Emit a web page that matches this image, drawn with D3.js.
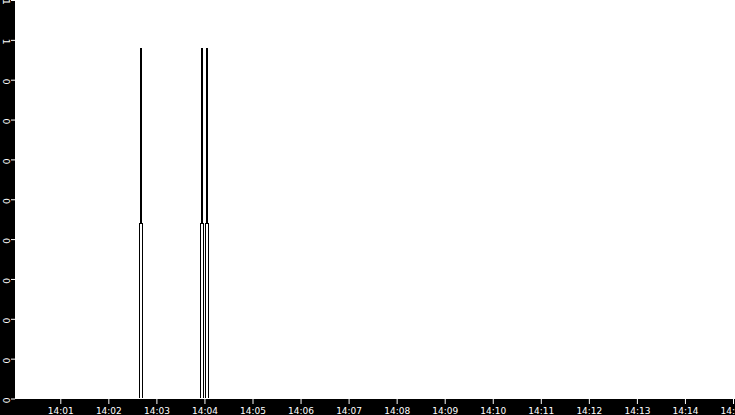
<!DOCTYPE html>
<html><head><meta charset="utf-8">
<script src="https://cdn.jsdelivr.net/npm/d3@7"></script>
<style>html,body{margin:0;padding:0;background:#000;overflow:hidden}
svg{display:block}
text{font-family:"DejaVu Sans",sans-serif;font-size:9px;fill:#fff}
</style>
</head><body><svg id="c" width="735" height="415"></svg>
<script>
// sampled series (per-second samples around the spikes, zero elsewhere)
const sampleTimes = ["14:00:00","14:02:39","14:02:40","14:02:41","14:02:42","14:02:43",
  "14:03:55","14:03:56","14:03:57","14:03:58","14:03:59",
  "14:04:01","14:04:02","14:04:03","14:04:04","14:04:05","14:15:00"];
const sampleValues = [0,0,0.5,1,0.5,0, 0,0.5,1,0.5,0, 0,0.5,1,0.5,0, 0];
const xDomain = ["14:00:00","14:15:00"];
const xTickLabels = ["14:01","14:02","14:03","14:04","14:05","14:06","14:07","14:08",
  "14:09","14:10","14:11","14:12","14:13","14:14","14:15"];
const yMax = 1.1375;
const yTickCount = 10;

const W = 735, H = 415;
const plot = {left: 15, top: 0, right: 735, bottom: 398};
const parseT = d3.timeParse("%H:%M:%S");
const parseM = d3.timeParse("%H:%M");
const data = sampleTimes.map((t, i) => ({t: parseT(t), v: sampleValues[i]}));

const x = d3.scaleTime().domain(xDomain.map(parseT)).range([12.25, 733]);
const y = d3.scaleLinear().domain([0, yMax]).range([398.5, 0]);

const svg = d3.select("#c");
svg.append("rect").attr("width", W).attr("height", H).attr("fill", "#000");
svg.append("rect").attr("x", plot.left).attr("y", plot.top)
  .attr("width", plot.right - plot.left).attr("height", plot.bottom - plot.top + 1)
  .attr("fill", "#fff");

svg.append("clipPath").attr("id", "clip").append("rect")
  .attr("x", plot.left).attr("y", plot.top)
  .attr("width", plot.right - plot.left).attr("height", plot.bottom - plot.top);

const line = d3.line().curve(d3.curveStep).x(d => x(d.t)).y(d => y(d.v));
svg.append("path").datum(data)
  .attr("clip-path", "url(#clip)")
  .attr("d", line).attr("fill", "none").attr("stroke", "#000")
  .attr("stroke-width", 1).attr("shape-rendering", "crispEdges");

// x axis
const xAxis = d3.axisBottom(x)
  .tickValues(xTickLabels.map(parseM))
  .tickFormat(d3.timeFormat("%H:%M"))
  .tickSize(5).tickPadding(2);
const gx = svg.append("g").attr("transform", "translate(0,399)").call(xAxis);
gx.select(".domain").remove();
gx.selectAll("line").attr("stroke", "#fff");
gx.selectAll("text").attr("fill", "#fff").attr("font-size", 9)
  .attr("font-family", "DejaVu Sans").attr("dy", null).attr("y", 14.5);

// y axis
const yTicks = d3.range(yTickCount + 1).map(i => i * yMax / yTickCount);
const yAxis = d3.axisLeft(y).tickValues(yTicks).tickFormat(d => Math.floor(d + 1e-9)).tickSize(4);
const gy = svg.append("g").attr("transform", `translate(${plot.left},0)`).call(yAxis);
gy.select(".domain").remove();
gy.selectAll("line").attr("stroke", "#fff");
gy.selectAll("text").attr("fill", "#fff").attr("font-size", 9)
  .attr("font-family", "DejaVu Sans")
  .attr("x", 0).attr("dy", null).attr("text-anchor", "start")
  .attr("transform", "translate(-12.5,-1.5) rotate(90)");
</script></body></html>
